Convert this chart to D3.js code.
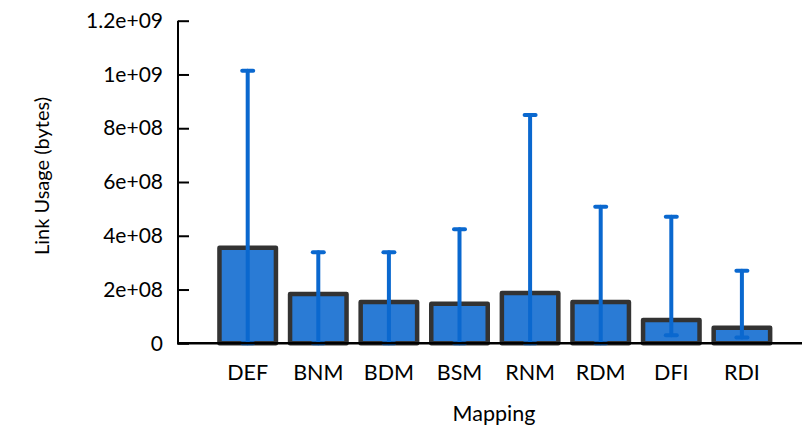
<!DOCTYPE html>
<html>
<head>
<meta charset="utf-8">
<script src="https://cdn.jsdelivr.net/npm/d3@7"></script>
<style>
body { margin: 0; background: #fff; }
svg { display: block; }
text { font-family: Lato, "Open Sans", sans-serif; fill: #000; }
</style>
</head>
<body>
<svg id="chart" width="802" height="429"></svg>
<script>
const categories = ["DEF", "BNM", "BDM", "BSM", "RNM", "RDM", "DFI", "RDI"];
const means = [3.55e8, 1.83e8, 1.54e8, 1.47e8, 1.87e8, 1.54e8, 0.87e8, 0.58e8];
const errHigh = [1.014e9, 3.39e8, 3.39e8, 4.24e8, 8.49e8, 5.08e8, 4.71e8, 2.70e8];
const errLow = [0, 0, 0, 0, 0, 0, 0.30e8, 0.22e8];
const yTicks = [0, 2e8, 4e8, 6e8, 8e8, 1e9, 1.2e9];
const yTickLabels = ["0", "2e+08", "4e+08", "6e+08", "8e+08", "1e+09", "1.2e+09"];
const xTitle = "Mapping";
const yTitle = "Link Usage (bytes)";

const svg = d3.select("#chart");
const axisX0 = 178;
const x = d3.scaleBand().domain(categories).range([212.4, 777.2]).paddingInner(0.2).paddingOuter(0.1);
const y = d3.scaleLinear().domain([0, 1.2e9]).range([343.3, 20.7]);

// bars
svg.append("g").selectAll("rect").data(categories).join("rect")
  .attr("x", d => x(d))
  .attr("y", (d, i) => y(means[i]))
  .attr("width", x.bandwidth())
  .attr("height", (d, i) => y(0) - y(means[i]))
  .attr("fill", "#2a7bd5")
  .attr("stroke", "#333333")
  .attr("stroke-width", 4.5)
  .attr("stroke-linejoin", "round");

// error bars
const eb = svg.append("g").attr("stroke", "#0a68cf").attr("stroke-width", 4).attr("stroke-linecap", "round");
categories.forEach((c, i) => {
  const cx = x(c) + x.bandwidth() / 2;
  eb.append("line").attr("x1", cx).attr("x2", cx).attr("y1", y(errLow[i])).attr("y2", y(errHigh[i]));
  eb.append("line").attr("x1", cx - 5.5).attr("x2", cx + 5.5).attr("y1", y(errHigh[i])).attr("y2", y(errHigh[i]));
  eb.append("line").attr("x1", cx - 5.5).attr("x2", cx + 5.5).attr("y1", y(errLow[i])).attr("y2", y(errLow[i]));
});

// y axis
const yAxis = d3.axisRight(y).tickValues(yTicks).tickFormat((d, i) => yTickLabels[i]).tickSize(11).tickPadding(0);
const gy = svg.append("g").attr("transform", `translate(${axisX0},0)`).call(yAxis);
gy.select(".domain").remove();
gy.selectAll(".tick line").attr("stroke", "#000").attr("stroke-width", 2);
gy.selectAll(".tick text").attr("x", -15).attr("text-anchor", "end").attr("font-size", 21).attr("font-family", "Lato, sans-serif").attr("fill", "#000");
svg.append("line").attr("x1", axisX0).attr("x2", axisX0).attr("y1", y(1.2e9)).attr("y2", y(0) + 1)
  .attr("stroke", "#000").attr("stroke-width", 2);

// x axis
svg.append("line").attr("x1", axisX0 - 1).attr("x2", 802).attr("y1", y(0)).attr("y2", y(0))
  .attr("stroke", "#000").attr("stroke-width", 2.5);
svg.append("g").selectAll("text").data(categories).join("text")
  .attr("x", d => x(d) + x.bandwidth() / 2)
  .attr("y", 380)
  .attr("text-anchor", "middle")
  .attr("font-size", 21.5)
  .text(d => d);

svg.append("text").attr("x", 494).attr("y", 421).attr("text-anchor", "middle").attr("font-size", 21.5).text(xTitle);
svg.append("text").attr("transform", "translate(49,176) rotate(-90)").attr("text-anchor", "middle").attr("font-size", 20).text(yTitle);
</script>
</body>
</html>
